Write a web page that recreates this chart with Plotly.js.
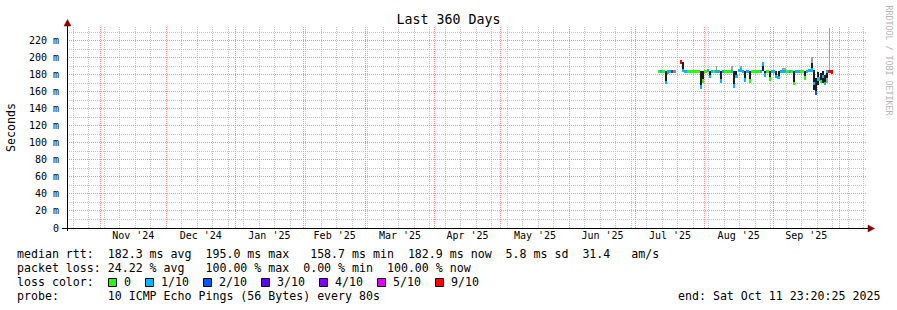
<!DOCTYPE html>
<html><head><meta charset="utf-8">
<script src="https://cdn.plot.ly/plotly-3.0.1.min.js"></script>
<style>html,body{margin:0;padding:0;background:#fff}#chart{width:897px;height:310px}</style>
</head><body><div id="chart"></div>
<script>
// ---- data ----
const days = ['2025-07-11','2025-07-12','2025-07-13','2025-07-14','2025-07-15','2025-07-16','2025-07-17','2025-07-18','2025-07-19','2025-07-20',
'2025-07-21','2025-07-22','2025-07-23','2025-07-24','2025-07-25','2025-07-26','2025-07-27','2025-07-28','2025-07-29','2025-07-30','2025-07-31',
'2025-08-01','2025-08-02','2025-08-03','2025-08-04','2025-08-05','2025-08-06','2025-08-07','2025-08-08','2025-08-09','2025-08-10',
'2025-08-11','2025-08-12','2025-08-13','2025-08-14','2025-08-15','2025-08-16','2025-08-17','2025-08-18','2025-08-19','2025-08-20',
'2025-08-21','2025-08-22','2025-08-23','2025-08-24','2025-08-25','2025-08-26','2025-08-27','2025-08-28','2025-08-29','2025-08-30','2025-08-31',
'2025-09-01','2025-09-02','2025-09-03','2025-09-04','2025-09-05','2025-09-06','2025-09-07','2025-09-08','2025-09-09','2025-09-10',
'2025-09-11','2025-09-12','2025-09-13','2025-09-14','2025-09-15','2025-09-16','2025-09-17','2025-09-18','2025-09-19','2025-09-20',
'2025-09-21','2025-09-22','2025-09-23','2025-09-24','2025-09-25','2025-09-26','2025-09-27'];
// median rtt in ms
const medianMs = [184,184,184,171,183,184,184,184,null,null,
195,185,184,184,184,184,184,184,184,166,173,
184,185,178,184,184,184,184,173,184,184,
184,184,184,167,178,185,186,184,174,184,
173,184,184,184,184,184,193,180,184,175,184,
184,178,177,184,184,184,184,184,184,170,
184,184,184,184,176,184,185,186,170,158.7,
175,172,178,170,184,184,183];
// lost pings out of 10
const lossCount = [0,1,0,1,1,1,9,1,null,null,
9,1,1,0,0,0,0,0,0,1,0,
0,1,1,1,0,1,1,1,1,0,
0,0,1,1,1,1,1,1,1,1,
0,0,0,0,0,1,1,1,0,0,1,
1,1,1,1,1,1,0,1,0,0,
1,1,0,0,0,1,1,1,1,2,
1,0,1,1,1,9,9];
// dense (dark) smoke range, ms
const darkLoMs = [null,null,null,171,null,null,null,null,null,null,
null,185,null,null,null,null,null,null,null,166,173,
null,null,178,null,null,null,null,173,null,null,
null,null,null,167,178,null,null,null,174,null,
173,null,null,null,null,null,184,180,null,175,null,
null,178,177,null,null,null,null,null,null,170,
null,null,null,null,176,null,null,184,162,158.7,
168,170,170,168,176,null,null];
const darkHiMs = [null,null,null,184,null,null,null,null,null,null,
null,195,null,null,null,null,null,null,null,184,184,
null,null,184,null,null,null,null,184,null,null,
null,null,null,184,184,null,null,null,184,null,
184,null,null,null,null,null,193,184,null,184,null,
null,184,184,null,null,null,null,null,null,184,
null,null,null,null,184,null,null,194,186,176,
183,182,184,180,185,null,null];
// sparse (light) smoke range, ms
const greyLoMs = [null,null,null,null,null,null,null,null,null,null,
null,null,null,null,null,null,null,null,null,null,null,
null,null,null,null,null,184,null,null,null,null,
null,null,184,null,null,null,186,null,null,null,
null,null,null,null,null,null,null,null,null,null,null,
null,null,null,null,184,184,null,null,null,null,
null,null,null,null,null,null,null,194,null,null,
null,null,null,null,170,184,null];
const greyHiMs = [null,null,null,null,null,null,null,null,null,null,
null,null,null,null,null,null,null,null,null,null,null,
null,null,null,null,null,190,null,null,null,null,
null,null,190,null,null,null,190,null,null,null,
null,null,null,null,null,null,null,null,null,null,null,
null,null,null,null,188,188,null,null,null,null,
null,null,null,null,null,null,null,201,null,null,
null,null,null,null,184,235,null];

const lossLabels = ['0','1/10','2/10','3/10','4/10','5/10','9/10'];
const lossThresholds = [0,1,2,3,4,5,9];
const lossColors = ['#26ff00','#00b8ff','#0059ff','#5e00ff','#7e00ff','#dd00ff','#ff0000'];
const yTickVals = [0,0.02,0.04,0.06,0.08,0.10,0.12,0.14,0.16,0.18,0.20,0.22];
const yTickText = ['0','20 m','40 m','60 m','80 m','100 m','120 m','140 m','160 m','180 m','200 m','220 m'];

const statsRow1 = 'median rtt:  182.3 ms avg  195.0 ms max   158.7 ms min  182.9 ms now  5.8 ms sd  31.4   am/s';
const statsRow2 = 'packet loss: 24.22 % avg   100.00 % max  0.00 % min  100.00 % now';
const lossRowLabel = 'loss color:';
const probeRow = 'probe:       10 ICMP Echo Pings (56 Bytes) every 80s';
const endText = 'end: Sat Oct 11 23:20:25 2025';
const titleText = 'Last 360 Days';
const yTitle = 'Seconds';
const sideText = 'RRDTOOL / TOBI OETIKER';

// ---- helpers ----
const DAY = 86400000;
const MONO = 'DejaVu Sans Mono';
const L = 67, R = 867, T = 27, B = 228;
const PW = R - L, PH = B - T;
const X_RANGE = ['2024-10-17 02:00','2025-10-13 11:00'];
const Y_TOP = PH / 0.851 / 1000;
const px = x => (x - L) / PW;
const py = y => (B - y) / PH;
const nb = s => s.replace(/ /g, '\u00a0');
const centers = days.map(d => d + ' 12:00');
const lossColor = c => { let i = 0; lossThresholds.forEach((t, k) => { if (c >= t) i = k; }); return lossColors[i]; };
const sec = v => v == null ? null : v / 1000;
const span = (lo, hi) => lo.map((v, i) => (v == null || hi[i] == null) ? null : (hi[i] - v) / 1000);
const BAND = 4.2; // ms thickness of the median band

const traces = [
  {type:'bar', x:centers, base:greyLoMs.map(sec), y:span(greyLoMs, greyHiMs), width:DAY*0.8,
   marker:{color:'#a0a0a0', line:{width:0}}, hoverinfo:'skip'},
  {type:'bar', x:centers, base:darkLoMs.map(sec), y:span(darkLoMs, darkHiMs), width:DAY*0.9,
   marker:{color:'#1c1c1c', line:{width:0}}, hoverinfo:'skip'},
  {type:'bar', x:centers, base:medianMs.map(v => v == null ? null : (v - BAND/2)/1000),
   y:medianMs.map(v => v == null ? null : BAND/1000), width:DAY,
   marker:{color:lossCount.map(c => c == null ? 'rgba(0,0,0,0)' : lossColor(c)), line:{width:0}}, hoverinfo:'skip'}
];

const textFont = {family:MONO, size:11.6, color:'#000'};
const ann = [];
const shapes = [];

// ---- grid (weekly / monthly, 10 m / 20 m), snapped to pixel centres ----
const minorGrid = '#c4c4c4';
const majorGrid = '#ff8c8c';
const gridDash = '1px,1px';
const t0 = Date.parse(X_RANGE[0].replace(' ', 'T') + 'Z');
const t1 = Date.parse(X_RANGE[1].replace(' ', 'T') + 'Z');
const snapX = t => (Math.floor((t - t0) / (t1 - t0) * PW) + 0.5) / PW;
const snapY = v => 1 - (Math.floor((1 - v / Y_TOP) * PH) + 0.5) / PH;
function vline(t, color) {
  const x = snapX(t);
  shapes.push({type:'line', xref:'paper', yref:'paper', x0:x, x1:x, y0:0, y1:1, line:{color:color, width:1, dash:gridDash}, layer:'below'});
}
function hline(v, color) {
  const y = snapY(v);
  shapes.push({type:'line', xref:'paper', yref:'paper', x0:0, x1:1, y0:y, y1:y, line:{color:color, width:1, dash:gridDash}, layer:'below'});
}
const monthStarts = [];
for (let m = new Date(Date.UTC(2024, 10, 1)); m.getTime() < t1; m = new Date(Date.UTC(m.getUTCFullYear(), m.getUTCMonth() + 1, 1))) monthStarts.push(m.getTime());
for (let t = Date.parse('2024-10-20T00:00:00Z'); t < t1; t += 7 * DAY) {
  if (!monthStarts.some(ms => Math.abs(snapX(ms) - snapX(t)) * PW < 1)) vline(t, minorGrid);
}
for (let v = 1; v * 0.01 < Y_TOP; v += 2) hline(v * 0.01, minorGrid);
monthStarts.forEach(t => vline(t, majorGrid));
yTickVals.slice(1).forEach(v => hline(v, majorGrid));

function label(text, x, y, anchor, font, angle) {
  ann.push({xref:'paper', yref:'paper', x:px(x), y:py(y), text:nb(text), showarrow:false,
    xanchor:anchor || 'left', yanchor:'middle', font:font || textFont, borderpad:0, textangle:angle || 0});
}
label(statsRow1, 16, 254.3);
label(statsRow2, 16, 268.3);
label(lossRowLabel, 16, 282.3);
label(probeRow, 16, 296.3);
label(endText, 881, 296.3, 'right');
label(yTitle, 11, 127, 'center', textFont, -90);
label(sideText, 888.5, 60, 'center', {family:MONO, size:8.3, color:'#b4b4b4'}, 90);

let bx = 108.5;
lossLabels.forEach((lab, i) => {
  shapes.push({type:'rect', xref:'paper', yref:'paper', x0:px(bx), x1:px(bx+8), y0:py(278.5), y1:py(286.5),
    fillcolor:lossColors[i], line:{color:'#000', width:1}, layer:'above'});
  label(lab, bx + 14.5, 282.3);
  bx += 14.5 + lab.length * 7 + 15.5;
});

// axes lines and arrows
shapes.push({type:'line', xref:'paper', yref:'paper', x0:px(62), x1:px(869), y0:py(228.5), y1:py(228.5), line:{color:'#000', width:1}, layer:'above'});
shapes.push({type:'line', xref:'paper', yref:'paper', x0:px(67.5), x1:px(67.5), y0:py(231), y1:py(24), line:{color:'#000', width:1}, layer:'above'});
const P = (x, y) => px(x) + ',' + py(y);
shapes.push({type:'path', xref:'paper', yref:'paper', path:'M' + P(868,225) + ' L' + P(874.5,228.5) + ' L' + P(868,232) + ' Z',
  fillcolor:'#8b0000', line:{color:'#8b0000', width:0.5}, layer:'above'});
shapes.push({type:'path', xref:'paper', yref:'paper', path:'M' + P(64,26) + ' L' + P(67.5,19.5) + ' L' + P(71,26) + ' Z',
  fillcolor:'#8b0000', line:{color:'#8b0000', width:0.5}, layer:'above'});

const layout = {
  width:897, height:310,
  margin:{l:L, r:897-R, t:T, b:310-B, pad:0},
  paper_bgcolor:'#fff', plot_bgcolor:'#fff',
  showlegend:false, barmode:'overlay', bargap:0, hovermode:false,
  title:{text:titleText, x:0.5, xref:'container', xanchor:'center', y:1-19/310, yref:'container', yanchor:'middle',
    font:{family:MONO, size:13.3, color:'#000'}},
  xaxis:{type:'date', range:X_RANGE, dtick:'M1', tick0:'2024-11-01',
    tickformat:"%b '%y", ticklabelmode:'period', showgrid:false,
    ticks:'', zeroline:false, showline:false,
    tickfont:{family:MONO, size:10, color:'#000'}},
  yaxis:{range:[0, Y_TOP], tickmode:'array', tickvals:yTickVals, ticktext:yTickText,
    showgrid:false, zeroline:false, showline:false,
    ticks:'outside', ticklen:5, tickcolor:'rgba(0,0,0,0)', tickfont:{family:MONO, size:10, color:'#000'}},
  annotations:ann, shapes:shapes
};
Plotly.newPlot('chart', traces, layout, {staticPlot:true, displayModeBar:false});
</script></body></html>
